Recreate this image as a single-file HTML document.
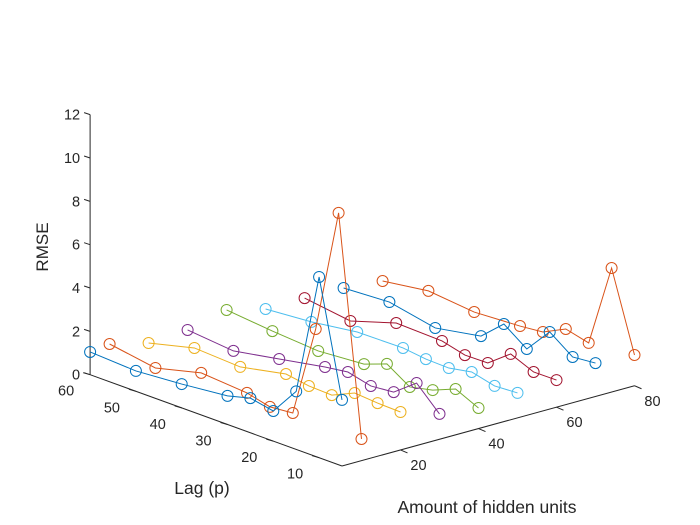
<!DOCTYPE html>
<html><head><meta charset="utf-8"><style>
html,body{margin:0;padding:0;background:#fff;}
svg{display:block;font-family:"Liberation Sans",Arial,sans-serif;}
</style></head><body>
<svg id="chart" width="700" height="525" viewBox="0 0 700 525" xmlns="http://www.w3.org/2000/svg">
<rect x="0" y="0" width="700" height="525" fill="#fff"/>
<g id="axes"></g>
<g id="series"></g>
</svg>
<script>
const hiddenUnits = [5, 10, 20, 30, 40, 50, 60, 70, 80];
const lags = [60, 50, 40, 30, 25, 20, 15, 10, 5];
const rmseH5  = [1.05, 0.94, 1.10, 1.32, 1.60, 1.39, 2.68, 8.34, 3.05];
const rmseH10 = [1.17, 0.83, 1.37, 1.21, 0.95, 1.05, 5.31, 11.05, 1.00];
const rmseH20 = [0.72, 1.26, 1.15, 1.59, 1.42, 1.38, 1.86, 1.78, 1.75];
const rmseH30 = [0.83, 0.63, 1.02, 1.42, 1.57, 1.31, 1.41, 2.21, 1.17];
const rmseH40 = [1.26, 1.05, 0.90, 1.06, 1.45, 0.77, 1.01, 1.44, 0.95];
const rmseH50 = [0.81, 0.98, 1.28, 1.31, 1.18, 1.15, 1.35, 1.09, 1.15];
const rmseH60 = [0.82, 0.53, 1.20, 1.14, 0.87, 0.89, 1.69, 1.24, 1.25];
const rmseH70 = [0.79, 0.91, 0.48, 0.87, 1.81, 1.04, 2.21, 1.44, 1.54];
const rmseH80 = [0.62, 0.93, 0.72, 0.84, 0.95, 1.47, 1.21, 5.05, 1.42];
const zTicks = [0, 2, 4, 6, 8, 10, 12];
const lagTicks = [10, 20, 30, 40, 50, 60];
const hiddenTicks = [20, 40, 60, 80];

const allRmse = [rmseH5, rmseH10, rmseH20, rmseH30, rmseH40, rmseH50, rmseH60, rmseH70, rmseH80];
const colors = ['#0072BD','#D95319','#EDB120','#7E2F8E','#77AC30','#4DBEEE','#A2142F','#0072BD','#D95319'];
const NS = 'http://www.w3.org/2000/svg';

function proj(h, l, z) {
  return [342 + (h - 5) * 3.9 - (l - 5) * 4.58,
          466 - (h - 5) * 1.07 - (l - 5) * 1.66 - z * 21.67];
}
function mk(tag, attrs, parent) {
  const e = document.createElementNS(NS, tag);
  for (const k in attrs) e.setAttribute(k, attrs[k]);
  parent.appendChild(e);
  return e;
}
const axes = document.getElementById('axes');
const series = document.getElementById('series');
const axStyle = {stroke: '#262626', 'stroke-width': 1, fill: 'none'};

// z axis
let a = proj(5, 60, 0), b = proj(5, 60, 12);
let zl = mk('line', Object.assign({x1: a[0], y1: a[1], x2: b[0], y2: b[1]}, axStyle), axes);


zTicks.forEach(t => {
  const p = proj(5, 60, t);
  const tk = mk('line', Object.assign({x1: p[0], y1: p[1], x2: p[0] - 6, y2: p[1] - 2}, axStyle), axes);
  
  
  const tx = mk('text', {x: p[0] - 10, y: p[1] + 5, 'text-anchor': 'end', 'font-size': 14.5, fill: '#262626'}, axes);
  tx.textContent = t;
  
  
});
// lag axis
a = proj(5, 60, 0); b = proj(5, 5, 0);
let ll = mk('line', Object.assign({x1: a[0], y1: a[1], x2: b[0], y2: b[1]}, axStyle), axes);


lagTicks.forEach(t => {
  const p = proj(5, t, 0);
  const tk = mk('line', Object.assign({x1: p[0], y1: p[1], x2: p[0] - 7, y2: p[1] - 2}, axStyle), axes);
  
  
  const tx = mk('text', {x: p[0] - 24, y: p[1] + 21, 'text-anchor': 'middle', 'font-size': 14.5, fill: '#262626'}, axes);
  tx.textContent = t;
  
  
});
// hidden axis
a = proj(5, 5, 0); b = proj(80, 5, 0);
let hl = mk('line', Object.assign({x1: a[0], y1: a[1], x2: b[0], y2: b[1]}, axStyle), axes);


hiddenTicks.forEach(t => {
  const p = proj(t, 5, 0);
  const tk = mk('line', Object.assign({x1: p[0], y1: p[1], x2: p[0] + 7, y2: p[1] + 3}, axStyle), axes);
  
  
  const tx = mk('text', {x: p[0] + 18, y: p[1] + 20, 'text-anchor': 'middle', 'font-size': 14.5, fill: '#262626'}, axes);
  tx.textContent = t;
  
  
});
// axis titles
let t1 = mk('text', {x: 48, y: 247, transform: 'rotate(-90 48 247)', 'text-anchor': 'middle', 'font-size': 17, fill: '#262626'}, axes);
t1.textContent = 'RMSE';


let t2 = mk('text', {x: 202, y: 494, 'text-anchor': 'middle', 'font-size': 17.5, fill: '#262626'}, axes);
t2.textContent = 'Lag (p)';


let t3 = mk('text', {x: 487, y: 513, 'text-anchor': 'middle', 'font-size': 17.5, fill: '#262626'}, axes);
t3.textContent = 'Amount of hidden units';



// series (draw back to front)
for (let s = allRmse.length - 1; s >= 0; s--) {
  const h = hiddenUnits[s];
  const vals = allRmse[s];
  const g = mk('g', {}, series);
  
  
  const pts = lags.map((l, i) => proj(h, l, vals[i]));
  const pl = mk('polyline', {points: pts.map(p => p.join(',')).join(' '), fill: 'none', stroke: colors[s], 'stroke-width': 1}, g);
  
  
  pts.forEach(p => {
    const c = mk('circle', {cx: p[0], cy: p[1], r: 5.5, fill: 'none', stroke: colors[s], 'stroke-width': 1}, g);
    
    
  });
}
</script>
</body></html>
